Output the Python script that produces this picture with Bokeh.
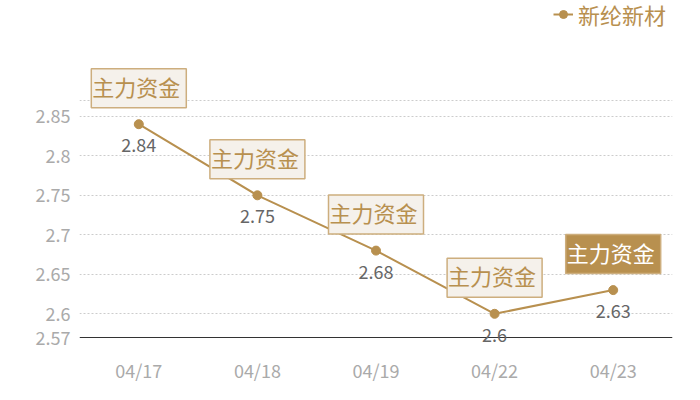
from bokeh.plotting import figure
from bokeh.models import (ColumnDataSource, Range1d, FactorRange, FixedTicker,
                          Legend, LegendItem, CustomJSTickFormatter, LabelSet, Label, Span)
from bokeh.core.properties import value
from bokeh.embed import file_html
from bokeh.resources import INLINE

# ---- data ----
dates = ["04/17", "04/18", "04/19", "04/22", "04/23"]
prices = [2.84, 2.75, 2.68, 2.6, 2.63]
series_name = "新纶新材"
mark_text = "主力资金"
highlight = [False, False, False, False, True]
y_ticks = [2.57, 2.6, 2.65, 2.7, 2.75, 2.8, 2.85]
y_min = 2.57
y_max = 2.87

FONT = "Noto Sans CJK SC"
TAN = "#b8904f"
BOX_BORDER = "#cdae7e"
BOX_BG = "#f5f1eb"

# layout: data band spans page y 100 (y_max) .. 337 (y_min); frame spans 0 .. 350
TOP_PX, BOT_PX, FRAME_H = 100, 337, 350
ppu = (BOT_PX - TOP_PX) / (y_max - y_min)
y_start = y_min - (FRAME_H - BOT_PX) / ppu
y_end = y_max + TOP_PX / ppu

p = figure(width=700, frame_height=FRAME_H,
           x_range=FactorRange(*dates), y_range=Range1d(y_start, y_end),
           output_backend="svg", toolbar_location=None,
           min_border_left=79, min_border_right=28,
           min_border_top=0, min_border_bottom=400 - FRAME_H)
p.outline_line_color = None
p.background_fill_color = "white"
p.border_fill_color = "white"

src = ColumnDataSource(dict(x=dates, y=prices, lbl=[str(v) for v in prices]))

# axis baseline at the minimum value
p.add_layout(Span(location=y_min, dimension="width", line_color="#333333", line_width=1))

line_r = p.line("x", "y", source=src, line_color=TAN, line_width=2)
sc_r = p.scatter("x", "y", source=src, size=9, fill_color=TAN, line_color=TAN)

# value labels
p.add_layout(LabelSet(x="x", y="y", text="lbl", source=src, y_offset=-21,
                      text_align="center", text_baseline="middle",
                      text_font=value(FONT), text_font_size=value("18px"),
                      text_color="#666666"))

# mark boxes (x in the categorical range's synthetic coordinates: factor i -> i + 0.5)
for i, (v, h) in enumerate(zip(prices, highlight)):
    p.add_layout(Label(x=i + 0.5, y=v, text=mark_text, y_offset=36,
                       text_align="center", text_baseline="middle",
                       text_font=FONT, text_font_size="22px",
                       text_color="white" if h else TAN,
                       background_fill_color=TAN if h else BOX_BG,
                       border_line_color=BOX_BORDER, border_line_width=1.5,
                       padding=(1, 6, 1, 6)))

# axes
p.yaxis.ticker = FixedTicker(ticks=y_ticks)
p.yaxis.formatter = CustomJSTickFormatter(
    code="return tick.toFixed(2).replace(/0+$/, '').replace(/\\.$/, '');")
p.yaxis.axis_line_color = None
p.yaxis.major_tick_line_color = None
p.yaxis.major_tick_out = 0
p.yaxis.minor_tick_line_color = None
p.yaxis.minor_tick_out = 0
p.yaxis.major_label_text_color = "#aaaaaa"
p.yaxis.major_label_text_font = FONT
p.yaxis.major_label_text_font_size = "18px"
p.yaxis.major_label_standoff = 9

p.xaxis.axis_line_color = None
p.xaxis.major_tick_line_color = None
p.xaxis.major_tick_out = 0
p.xaxis.minor_tick_line_color = None
p.xaxis.minor_tick_out = 0
p.xaxis.major_label_text_color = "#aaaaaa"
p.xaxis.major_label_text_font = FONT
p.xaxis.major_label_text_font_size = "18px"
p.xaxis.major_label_standoff = 6

p.xgrid.visible = False
p.ygrid.ticker = FixedTicker(ticks=y_ticks[1:] + [y_max])
p.ygrid.grid_line_color = "#cccccc"
p.ygrid.grid_line_dash = "2 2"
p.ygrid.grid_line_width = 1

legend = Legend(items=[LegendItem(label=series_name, renderers=[line_r, sc_r])],
                location=(474, 320), orientation="horizontal",
                label_text_font=FONT, label_text_font_size="22px",
                label_text_color=TAN, border_line_color=None,
                background_fill_alpha=0, padding=0, margin=0,
                glyph_width=20, glyph_height=20, label_standoff=5,
                label_height=20)
p.add_layout(legend)

open("out.html", "w").write(file_html(p, INLINE))
